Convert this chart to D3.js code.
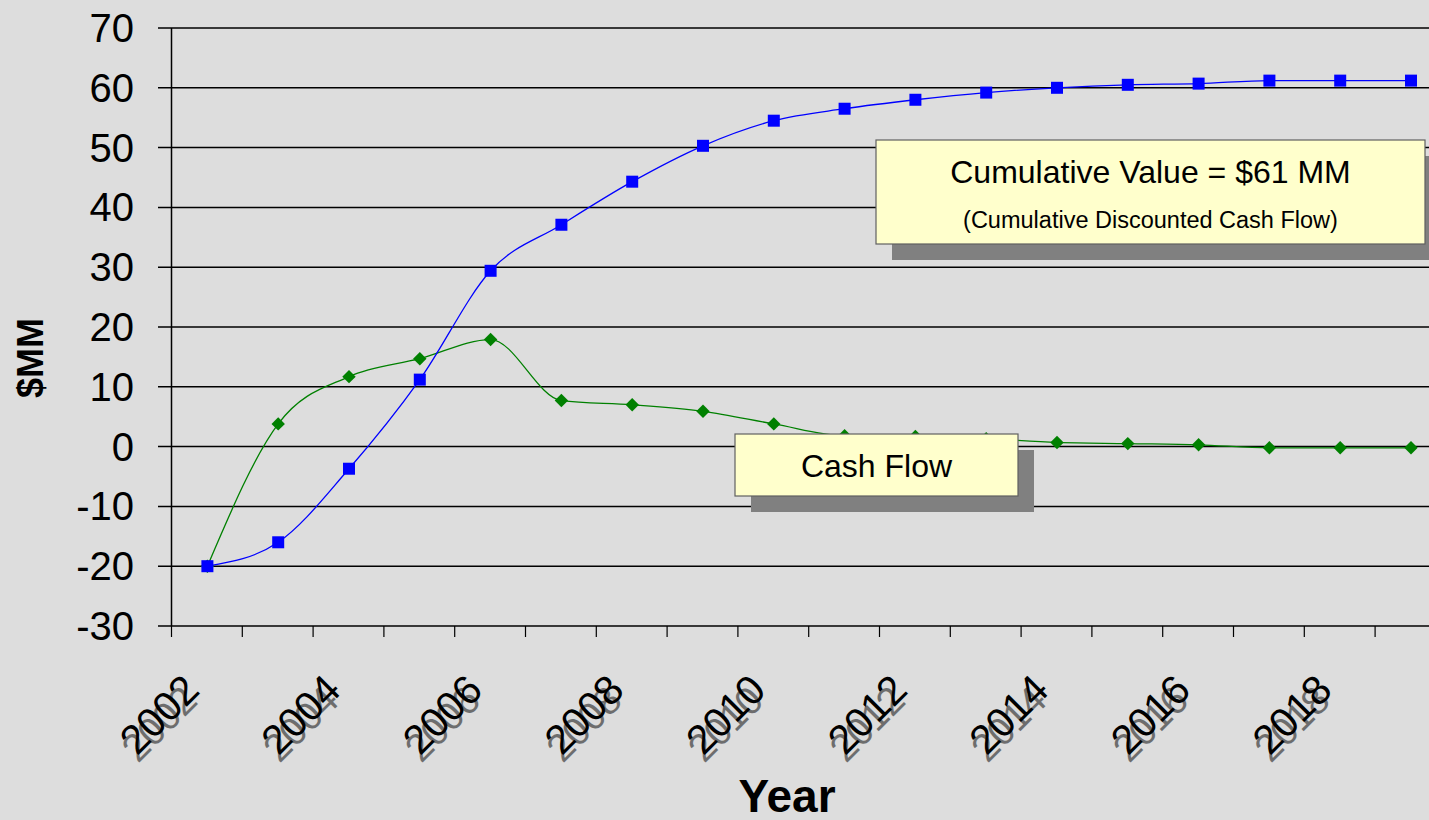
<!DOCTYPE html>
<html>
<head>
<meta charset="utf-8">
<script src="https://cdn.jsdelivr.net/npm/d3@7"></script>
<style>
  body { margin: 0; background: #dddddd; overflow: hidden; }
  svg { display: block; font-family: "Liberation Sans", Arial, sans-serif; }
</style>
</head>
<body>
<svg width="1429" height="820"></svg>
<script>
// ### Data ###
var years = ['2002','2003','2004','2005','2006','2007','2008','2009','2010',
             '2011','2012','2013','2014','2015','2016','2017','2018','2019'];
var cumulative = [-20, -16, -3.7, 11.2, 29.4, 37.1, 44.3, 50.3, 54.5,
                  56.5, 58, 59.2, 60, 60.5, 60.7, 61.2, 61.2, 61.2];
var cashFlow = [-20, 3.8, 11.7, 14.7, 17.9, 7.7, 7.0, 5.9, 3.8,
                1.8, 1.7, 1.3, 0.7, 0.5, 0.3, -0.2, -0.2, -0.2];
var yTicks = [-30, -20, -10, 0, 10, 20, 30, 40, 50, 60, 70];
var xLabels = ['2002','2004','2006','2008','2010','2012','2014','2016','2018'];

// ### Setting up canvas ###
var svg = d3.select('svg');
var plotLeft = 172, plotTop = 28, plotBottom = 626;
var band = 70.8;

var xScale = d3.scaleBand()
    .domain(years)
    .range([plotLeft, plotLeft + band * years.length]);
var yScale = d3.scaleLinear()
    .domain([-30, 70])
    .range([plotBottom, plotTop]);

// ### Gridlines ###
svg.append('g')
  .selectAll('line')
  .data(yTicks)
  .enter()
  .append('line')
  .attr('x1', 158)
  .attr('x2', 1429)
  .attr('y1', d => yScale(d))
  .attr('y2', d => yScale(d))
  .attr('stroke', '#000')
  .attr('stroke-width', 1.5);

// y tick labels
svg.append('g')
  .selectAll('text')
  .data(yTicks)
  .enter()
  .append('text')
  .attr('x', 134)
  .attr('y', d => yScale(d) + 14)
  .attr('text-anchor', 'end')
  .attr('font-size', 40)
  .text(d => d);

// y axis line
svg.append('line')
  .attr('x1', plotLeft - 0.5).attr('x2', plotLeft - 0.5)
  .attr('y1', plotTop).attr('y2', plotBottom)
  .attr('stroke', '#000').attr('stroke-width', 1.5);

// x ticks at band boundaries
svg.append('g')
  .selectAll('line')
  .data(years)
  .enter()
  .append('line')
  .attr('x1', d => xScale(d) - 0.5)
  .attr('x2', d => xScale(d) - 0.5)
  .attr('y1', plotBottom)
  .attr('y2', plotBottom + 11)
  .attr('stroke', '#000')
  .attr('stroke-width', 1.2);

// x labels (with the ghost copy seen in the original)
var lab = svg.append('g')
  .selectAll('g')
  .data(xLabels)
  .enter()
  .append('g')
  .attr('transform', d => `translate(${xScale(d) + band / 2 - 6}, 692) rotate(-45)`);
lab.append('text')
  .attr('x', -9).attr('y', 6)
  .attr('text-anchor', 'end')
  .attr('font-size', 39)
  .attr('fill', '#000')
  .attr('opacity', 0.5)
  .text(d => d);
lab.append('text')
  .attr('text-anchor', 'end')
  .attr('font-size', 41)
  .attr('fill', '#000')
  .text(d => d);

// axis titles
svg.append('text')
  .attr('transform', 'translate(43, 358) rotate(-90)')
  .attr('text-anchor', 'middle')
  .attr('font-size', 36)
  .attr('font-weight', 'bold')
  .text('$MM');
svg.append('text')
  .attr('x', 787).attr('y', 812)
  .attr('text-anchor', 'middle')
  .attr('font-size', 46)
  .attr('font-weight', 'bold')
  .text('Year');

// ### Lines ###
var cx = d => xScale(d) + band / 2;
var line = d3.line().curve(d3.curveMonotoneX);

svg.append('path')
  .attr('d', line(years.map((y, i) => [cx(y), yScale(cashFlow[i])])))
  .attr('fill', 'none')
  .attr('stroke', '#008000')
  .attr('stroke-width', 1.3);

svg.append('path')
  .attr('d', line(years.map((y, i) => [cx(y), yScale(cumulative[i])])))
  .attr('fill', 'none')
  .attr('stroke', '#0000ff')
  .attr('stroke-width', 1.3);

// ### Markers ###
svg.append('g')
  .selectAll('path')
  .data(years)
  .enter()
  .append('path')
  .attr('d', d3.symbol().type(d3.symbolDiamond2).size(115))
  .attr('transform', (d, i) => `translate(${cx(d)}, ${yScale(cashFlow[i])})`)
  .attr('fill', '#008000');

svg.append('g')
  .selectAll('rect')
  .data(years)
  .enter()
  .append('rect')
  .attr('x', d => cx(d) - 6)
  .attr('y', (d, i) => yScale(cumulative[i]) - 6)
  .attr('width', 12)
  .attr('height', 12)
  .attr('fill', '#0000ff');

// ### Callout boxes ###
function callout(x, y, w, h, lines) {
  var g = svg.append('g');
  g.append('rect')
    .attr('x', x + 16).attr('y', y + 16)
    .attr('width', w).attr('height', h)
    .attr('fill', '#808080');
  g.append('rect')
    .attr('x', x).attr('y', y)
    .attr('width', w).attr('height', h)
    .attr('fill', '#ffffcc')
    .attr('stroke', '#606060')
    .attr('stroke-width', 1.2);
  lines.forEach(function(l) {
    g.append('text')
      .attr('x', x + w / 2)
      .attr('y', y + l.dy)
      .attr('text-anchor', 'middle')
      .attr('font-size', l.size)
      .text(l.text);
  });
}

callout(876, 140, 549, 104, [
  {text: 'Cumulative Value = $61 MM', size: 32, dy: 43},
  {text: '(Cumulative Discounted Cash Flow)', size: 23.5, dy: 88}
]);
callout(735, 434, 283, 62, [
  {text: 'Cash Flow', size: 32, dy: 43}
]);
</script>
</body>
</html>
